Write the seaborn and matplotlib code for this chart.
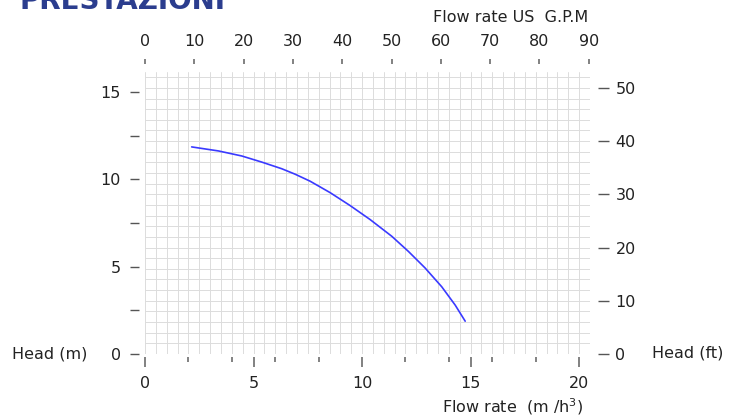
import numpy as np
import seaborn as sns
from matplotlib import pyplot as plt
from matplotlib.ticker import FixedLocator, NullFormatter

# pump curve (m3/h, m)
flow = [2.15, 3.38, 4.46, 5.38, 6.30, 6.91, 7.60, 8.53, 9.45, 10.37,
        11.37, 12.13, 12.90, 13.67, 14.29, 14.75]
head = [11.86, 11.63, 11.34, 10.99, 10.61, 10.30, 9.90, 9.24, 8.50, 7.70,
        6.74, 5.88, 4.93, 3.85, 2.80, 1.88]

x_ticks = [0, 5, 10, 15, 20]
x_minor = [2, 4, 6, 8, 12, 14, 16, 18]
y_ticks = [0, 2.5, 5, 7.5, 10, 12.5, 15]
y_labels = ['0', '', '5', '', '10', '', '15']
ft_ticks = [0, 10, 20, 30, 40, 50]
gpm_ticks = [0, 10, 20, 30, 40, 50, 60, 70, 80, 90]

M3H_TO_GPM = 4.403
M_TO_FT = 3.2808
X_MAX = 20.5
Y_MAX = 16.15

sns.set_style('white')
plt.rcParams['font.family'] = ['DejaVu Sans']
TXT = '#222222'
TICK = '#777777'
GRID = '#dcdcdc'

fig = plt.figure(figsize=(7.33, 4.17), dpi=100)
ax = fig.add_axes([145 / 733, 1 - 354 / 417, 445 / 733, 282 / 417])
ax.set_xlim(0, X_MAX)
ax.set_ylim(0, Y_MAX)

# square paper grid: 0.5 m3/h by 2 ft
for q in np.arange(0, X_MAX + 0.01, 0.5):
    ax.axvline(q, color=GRID, lw=0.7, zorder=0)
for f in np.arange(0, Y_MAX * M_TO_FT, 2):
    ax.axhline(f / M_TO_FT, color=GRID, lw=0.7, zorder=0)

sns.lineplot(x=flow, y=head, ax=ax, color='#3a3aff', lw=1.2, sort=False, zorder=3)

for s in ax.spines.values():
    s.set_color('none')
ax.spines['left'].set_position(('outward', 4.3))
ax.spines['bottom'].set_position(('outward', 2))

ax.set_xticks(x_ticks)
ax.xaxis.set_minor_locator(FixedLocator(x_minor))
ax.xaxis.set_minor_formatter(NullFormatter())
ax.tick_params(axis='x', which='major', length=7, width=1.3, color=TICK, pad=6.5,
               labelsize=11.5, labelcolor=TXT)
ax.tick_params(axis='x', which='minor', length=3.5, width=1.3, color=TICK)
ax.set_yticks(y_ticks)
ax.set_yticklabels(y_labels)
ax.tick_params(axis='y', length=6.5, width=1, color='#555555', pad=6.5,
               labelsize=11.5, labelcolor=TXT)
ax.set_xlabel('')
ax.set_ylabel('')

# right axis in feet
ax2 = ax.twinx()
ax2.set_ylim(0, Y_MAX * M_TO_FT)
ax2.set_yticks(ft_ticks)
for s in ax2.spines.values():
    s.set_color('none')
ax2.spines['right'].set_position(('outward', 5.8))
ax2.tick_params(axis='y', length=8, width=1, color='#555555', pad=4.5,
                labelsize=11.5, labelcolor=TXT)

# top axis in US gallons per minute
ax3 = ax.twiny()
ax3.set_xlim(0, X_MAX * M3H_TO_GPM)
ax3.set_xticks(gpm_ticks)
for s in ax3.spines.values():
    s.set_color('none')
ax3.spines['top'].set_position(('outward', 5.8))
ax3.tick_params(axis='x', length=3.6, width=1.3, color=TICK, pad=7,
                labelsize=11.5, labelcolor=TXT)

fig.text(12 / 733, 1 - 354 / 417, 'Head (m)', ha='left', va='center', fontsize=11.5, color=TXT)
fig.text(652 / 733, 1 - 353 / 417, 'Head (ft)', ha='left', va='center', fontsize=11.5, color=TXT)
fig.text(583 / 733, 1 - 407 / 417, 'Flow rate  (m /h$^3$)', ha='right', va='center',
         fontsize=11.5, color=TXT)
fig.text(588 / 733, 1 - 17 / 417, 'Flow rate US  G.P.M', ha='right', va='center',
         fontsize=11.5, color=TXT)
# heading is cropped by the top edge in the original too
fig.text(20 / 733, 1 - 9 / 417, 'PRESTAZIONI', ha='left', va='baseline',
         fontsize=20, fontweight='bold', color='#2b3d8e')

fig.savefig('out.png', dpi=100)
